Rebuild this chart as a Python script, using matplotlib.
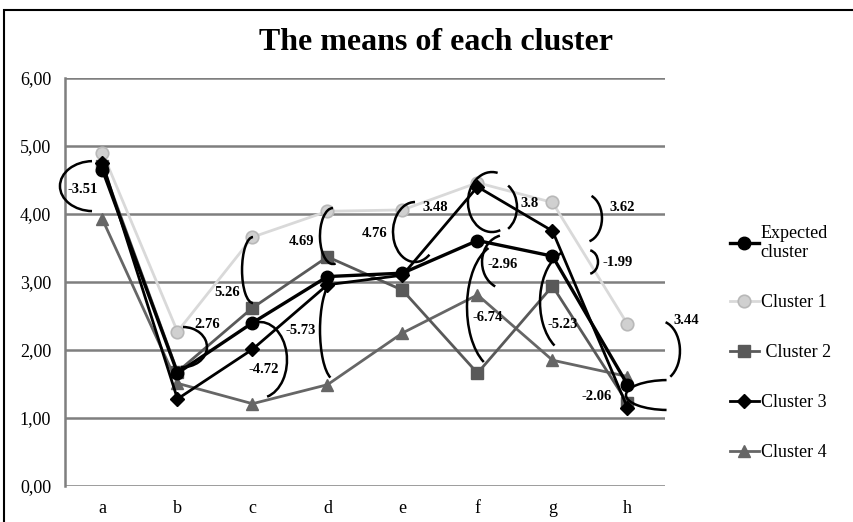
import matplotlib
matplotlib.use("Agg")
import matplotlib.pyplot as plt
from matplotlib.patches import Arc, Rectangle
import numpy as np

plt.rcParams['font.family'] = ['Liberation Serif', 'DejaVu Serif']

categories = ['a', 'b', 'c', 'd', 'e', 'f', 'g', 'h']
expected = [4.65, 1.66, 2.40, 3.08, 3.13, 3.61, 3.38, 1.49]
cluster1 = [4.90, 2.27, 3.66, 4.04, 4.06, 4.46, 4.17, 2.38]
cluster2 = [4.70, 1.68, 2.62, 3.37, 2.88, 1.66, 2.94, 1.22]
cluster3 = [4.75, 1.28, 2.01, 2.96, 3.10, 4.40, 3.75, 1.15]
cluster4 = [3.92, 1.51, 1.21, 1.49, 2.25, 2.81, 1.85, 1.61]
yticks = [0, 1, 2, 3, 4, 5, 6]
ytick_labels = ['0,00', '1,00', '2,00', '3,00', '4,00', '5,00', '6,00']

# annotation arcs: (x, y, width, height, theta1, theta2) in data units
arcs = [
    (-0.127, 4.41, 0.88, 0.735, 92, 268),
    (1.073, 2.044, 0.64, 0.588, -95, 90),
    (2.007, 3.176, 0.293, 0.97, 90, 270),
    (2.10, 1.853, 0.72, 1.118, -80, 95),
    (3.073, 3.676, 0.347, 0.824, 90, 275),
    (3.10, 2.294, 0.40, 1.47, 95, 265),
    (4.167, 3.735, 0.587, 0.882, 90, 300),
    (5.193, 4.176, 0.64, 0.882, 80, 285),
    (5.26, 4.10, 0.533, 0.765, -65, 65),
    (5.367, 3.294, 0.613, 0.794, 100, 250),
    (5.30, 2.63, 0.88, 1.853, 100, 255),
    (6.26, 2.706, 0.853, 1.53, 100, 250),
    (6.433, 3.94, 0.453, 0.706, -80, 75),
    (6.473, 3.294, 0.267, 0.353, -80, 80),
    (7.433, 1.985, 0.533, 0.882, -70, 80),
    (7.54, 1.338, 1.12, 0.44, 95, 265),
]
# annotation labels: (text, x, y)
labels = [
    ('-3.51', -0.27, 4.36),
    ('2.76', 1.393, 2.368),
    ('5.26', 1.66, 2.84),
    ('-4.72', 2.153, 1.72),
    ('4.69', 2.66, 3.59),
    ('-5.73', 2.647, 2.28),
    ('4.76', 3.633, 3.72),
    ('3.48', 4.433, 4.10),
    ('3.8', 5.70, 4.16),
    ('-2.96', 5.34, 3.25),
    ('-6.74', 5.14, 2.485),
    ('-5.23', 6.13, 2.37),
    ('3.62', 6.93, 4.10),
    ('-1.99', 6.87, 3.29),
    ('3.44', 7.78, 2.43),
    ('-2.06', 6.593, 1.31),
]

fig = plt.figure(figsize=(8.54, 5.22), dpi=100)
ax = fig.add_axes([65/854, 1-486/522, 600/854, 408/522])

x = np.arange(len(categories))
grid_c = '#7f7f7f'
for v in yticks:
    ax.axhline(v, color=grid_c, lw=1.8, zorder=1)

ax.plot(x, cluster1, color='#d9d9d9', lw=2.0, marker='o', ms=9,
        mfc='#d0d0d0', mec='#b8b8b8', mew=1.2, label='Cluster 1', zorder=3)
ax.plot(x, cluster4, color='#666666', lw=2.0, marker='^', ms=9,
        mfc='#666666', mec='#666666', label='Cluster 4', zorder=3)
ax.plot(x, cluster2, color='#595959', lw=2.0, marker='s', ms=9,
        mfc='#595959', mec='#595959', label=' Cluster 2', zorder=3)
ax.plot(x, expected, color='black', lw=2.4, marker='o', ms=9,
        label='Expected\ncluster', zorder=4)
ax.plot(x, cluster3, color='black', lw=2.0, marker='D', ms=7,
        label='Cluster 3', zorder=4)

for (cx, cy, w, h, t1, t2) in arcs:
    ax.add_patch(Arc((cx, cy), w, h, theta1=t1, theta2=t2, color='black',
                     lw=1.8, clip_on=False, zorder=5))
for (t, tx, ty) in labels:
    ax.text(tx, ty, t, fontsize=10.5, fontweight='bold', ha='center',
            va='center', zorder=6, clip_on=False)

ax.set_xlim(-0.5, 7.5)
ax.set_ylim(0, 6)
ax.set_xticks(x)
ax.set_xticklabels(categories, fontsize=13)
ax.set_yticks(yticks)
ax.set_yticklabels(ytick_labels, fontsize=13)
ax.tick_params(length=0, pad=10)
for s in ['top', 'right', 'bottom']:
    ax.spines[s].set_visible(False)
ax.spines['left'].set_color(grid_c)
ax.spines['left'].set_linewidth(1.8)

handles, labs = ax.get_legend_handles_labels()
order = [labs.index(n) for n in ['Expected\ncluster', 'Cluster 1', ' Cluster 2', 'Cluster 3', 'Cluster 4']]
leg = ax.legend([handles[i] for i in order], [labs[i] for i in order],
                loc='center left', bbox_to_anchor=(730/854, 1-343/522),
                bbox_transform=fig.transFigure, frameon=False, fontsize=13,
                handlelength=1.6, handletextpad=0.1, labelspacing=1.83,
                borderaxespad=0, borderpad=0)

fig.text(436/854, 1-43/522, 'The means of each cluster', fontsize=23,
         fontweight='bold', ha='center', va='center')

fig.patches.append(Rectangle((4/854, -0.05), 1.1, 1-10/522+0.05,
                             transform=fig.transFigure, fill=False,
                             edgecolor='black', lw=1.5))

fig.savefig('out.png', dpi=100)
